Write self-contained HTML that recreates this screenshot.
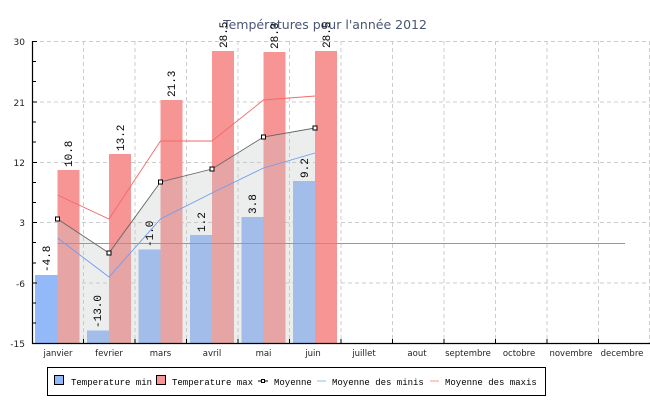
<!DOCTYPE html>
<html><head><meta charset="utf-8"><style>
body{margin:0;background:#fff}
.s{font-family:"DejaVu Sans","Liberation Sans",sans-serif}
.m{font-family:"Liberation Mono","DejaVu Sans Mono",monospace}
</style></head><body>
<svg width="650" height="400" viewBox="0 0 650 400" xmlns="http://www.w3.org/2000/svg">
<rect width="650" height="400" fill="#fff"/>
<text class="s" x="325" y="29" text-anchor="middle" font-size="12.5" fill="#4a5575">Températures pour l'année 2012</text>
<g stroke="#cccccc" stroke-dasharray="4,3" stroke-width="1">
<line x1="33" y1="41.5" x2="650" y2="41.5"/>
<line x1="33" y1="102" x2="650" y2="102"/>
<line x1="33" y1="162.5" x2="650" y2="162.5"/>
<line x1="33" y1="222.5" x2="650" y2="222.5"/>
<line x1="33" y1="283" x2="650" y2="283"/>
<line x1="83.5" y1="41" x2="83.5" y2="343"/>
<line x1="135" y1="41" x2="135" y2="343"/>
<line x1="186.5" y1="41" x2="186.5" y2="343"/>
<line x1="238" y1="41" x2="238" y2="343"/>
<line x1="289.5" y1="41" x2="289.5" y2="343"/>
<line x1="341" y1="41" x2="341" y2="343"/>
<line x1="392.5" y1="41" x2="392.5" y2="343"/>
<line x1="444" y1="41" x2="444" y2="343"/>
<line x1="495.5" y1="41" x2="495.5" y2="343"/>
<line x1="547" y1="41" x2="547" y2="343"/>
<line x1="598.5" y1="41" x2="598.5" y2="343"/>
<line x1="649.5" y1="41" x2="649.5" y2="343"/>
</g>
<g>
<rect x="35" y="275" width="22.5" height="68" fill="#93b9f9"/>
<rect x="87" y="330.5" width="22" height="12.5" fill="#93b9f9"/>
<rect x="138.5" y="249.5" width="22" height="93.5" fill="#93b9f9"/>
<rect x="190" y="235" width="22" height="108" fill="#93b9f9"/>
<rect x="241.5" y="217" width="22" height="126" fill="#93b9f9"/>
<rect x="293" y="181" width="22" height="162" fill="#93b9f9"/>
<rect x="57.5" y="170" width="22" height="173" fill="#f79494"/>
<rect x="109" y="154" width="22" height="189" fill="#f79494"/>
<rect x="160.5" y="100" width="22" height="243" fill="#f79494"/>
<rect x="212" y="51" width="22" height="292" fill="#f79494"/>
<rect x="263.5" y="52" width="22" height="291" fill="#f79494"/>
<rect x="315" y="51" width="22" height="292" fill="#f79494"/>
</g>
<polygon points="57.5,219 109,253 160.5,182 212,169 263.5,137 315,128 315,343 57.5,343" fill="#c4c6c8" fill-opacity="0.32"/>
<line x1="57.5" y1="243.5" x2="625" y2="243.5" stroke="#999" stroke-width="1"/>
<polyline points="57.5,238 109,277 160.5,219 212,193 263.5,168 315,153" fill="none" stroke="#6f9cf0" stroke-width="0.9"/>
<polyline points="57.5,195 109,219 160.5,141 212,141 263.5,100 315,96" fill="none" stroke="#f26a6a" stroke-width="0.9"/>
<polyline points="57.5,219 109,253 160.5,182 212,169 263.5,137 315,128" fill="none" stroke="#666" stroke-width="0.9"/>
<g fill="#fff" stroke="#000" stroke-width="1">
<rect x="55.5" y="217" width="4" height="4"/>
<rect x="107" y="251" width="4" height="4"/>
<rect x="158.5" y="180" width="4" height="4"/>
<rect x="210" y="167" width="4" height="4"/>
<rect x="261.5" y="135" width="4" height="4"/>
<rect x="313" y="126" width="4" height="4"/>
</g>
<g class="m" font-size="11" fill="#000">
<text transform="translate(50,272) rotate(-90)">-4.8</text>
<text transform="translate(101,328) rotate(-90)">-13.0</text>
<text transform="translate(153,247) rotate(-90)">-1.0</text>
<text transform="translate(205,232) rotate(-90)">1.2</text>
<text transform="translate(256,214) rotate(-90)">3.8</text>
<text transform="translate(308,178) rotate(-90)">9.2</text>
<text transform="translate(72,167) rotate(-90)">10.8</text>
<text transform="translate(124,151) rotate(-90)">13.2</text>
<text transform="translate(175,97) rotate(-90)">21.3</text>
<text transform="translate(227,48) rotate(-90)">28.5</text>
<text transform="translate(278,49) rotate(-90)">28.3</text>
<text transform="translate(330,48) rotate(-90)">28.5</text>
</g>
<g stroke="#000" stroke-width="1.2">
<line x1="32.5" y1="41" x2="32.5" y2="344"/>
<line x1="32" y1="343.5" x2="650" y2="343.5"/>
</g>
<g stroke="#000" stroke-width="1">
<line x1="32" y1="41.5" x2="37" y2="41.5"/><line x1="32" y1="61.5" x2="36" y2="61.5"/><line x1="32" y1="81.5" x2="36" y2="81.5"/>
<line x1="32" y1="102" x2="37" y2="102"/><line x1="32" y1="122" x2="36" y2="122"/><line x1="32" y1="142" x2="36" y2="142"/>
<line x1="32" y1="162.5" x2="37" y2="162.5"/><line x1="32" y1="182.5" x2="36" y2="182.5"/><line x1="32" y1="202.5" x2="36" y2="202.5"/>
<line x1="32" y1="222.5" x2="37" y2="222.5"/><line x1="32" y1="242.5" x2="36" y2="242.5"/><line x1="32" y1="263" x2="36" y2="263"/>
<line x1="32" y1="283" x2="37" y2="283"/><line x1="32" y1="303" x2="36" y2="303"/><line x1="32" y1="323" x2="36" y2="323"/>
<line x1="83.5" y1="339" x2="83.5" y2="343"/><line x1="135" y1="339" x2="135" y2="343"/><line x1="186.5" y1="339" x2="186.5" y2="343"/>
<line x1="238" y1="339" x2="238" y2="343"/><line x1="289.5" y1="339" x2="289.5" y2="343"/><line x1="341" y1="339" x2="341" y2="343"/>
<line x1="392.5" y1="339" x2="392.5" y2="343"/><line x1="444" y1="339" x2="444" y2="343"/><line x1="495.5" y1="339" x2="495.5" y2="343"/>
<line x1="547" y1="339" x2="547" y2="343"/><line x1="598.5" y1="339" x2="598.5" y2="343"/>
</g>
<g class="s" font-size="9" fill="#222" text-anchor="end">
<text x="25" y="45">30</text><text x="25" y="106">21</text><text x="25" y="166">12</text>
<text x="25" y="226">3</text><text x="25" y="287">-6</text><text x="25" y="347">-15</text>
</g>
<g class="s" font-size="8.5" fill="#222" text-anchor="middle">
<text x="58" y="356">janvier</text><text x="109" y="356">fevrier</text><text x="160.5" y="356">mars</text>
<text x="212" y="356">avril</text><text x="263.5" y="356">mai</text><text x="313" y="356">juin</text>
<text x="364" y="356">juillet</text><text x="417" y="356">aout</text><text x="468" y="356">septembre</text>
<text x="519" y="356">octobre</text><text x="571" y="356">novembre</text><text x="622" y="356">decembre</text>
</g>
<rect x="47.5" y="367.5" width="498" height="28" fill="#fff" stroke="#000" stroke-width="1"/>
<g class="m" font-size="9" fill="#000">
<rect x="54.5" y="375.5" width="9" height="9" fill="#92b8f8" stroke="#000"/>
<text x="71" y="385">Temperature min</text>
<rect x="156.5" y="375.5" width="9" height="9" fill="#f79494" stroke="#000"/>
<text x="172" y="385">Temperature max</text>
<line x1="258" y1="381" x2="268" y2="381" stroke="#000"/>
<rect x="261.5" y="379.5" width="3" height="3" fill="#fff" stroke="#000"/>
<text x="274" y="385">Moyenne</text>
<line x1="317" y1="381" x2="326" y2="381" stroke="#92b8f8"/>
<text x="332" y="385">Moyenne des minis</text>
<line x1="430" y1="381" x2="439" y2="381" stroke="#f79494"/>
<text x="445" y="385">Moyenne des maxis</text>
</g>
</svg>
</body></html>
